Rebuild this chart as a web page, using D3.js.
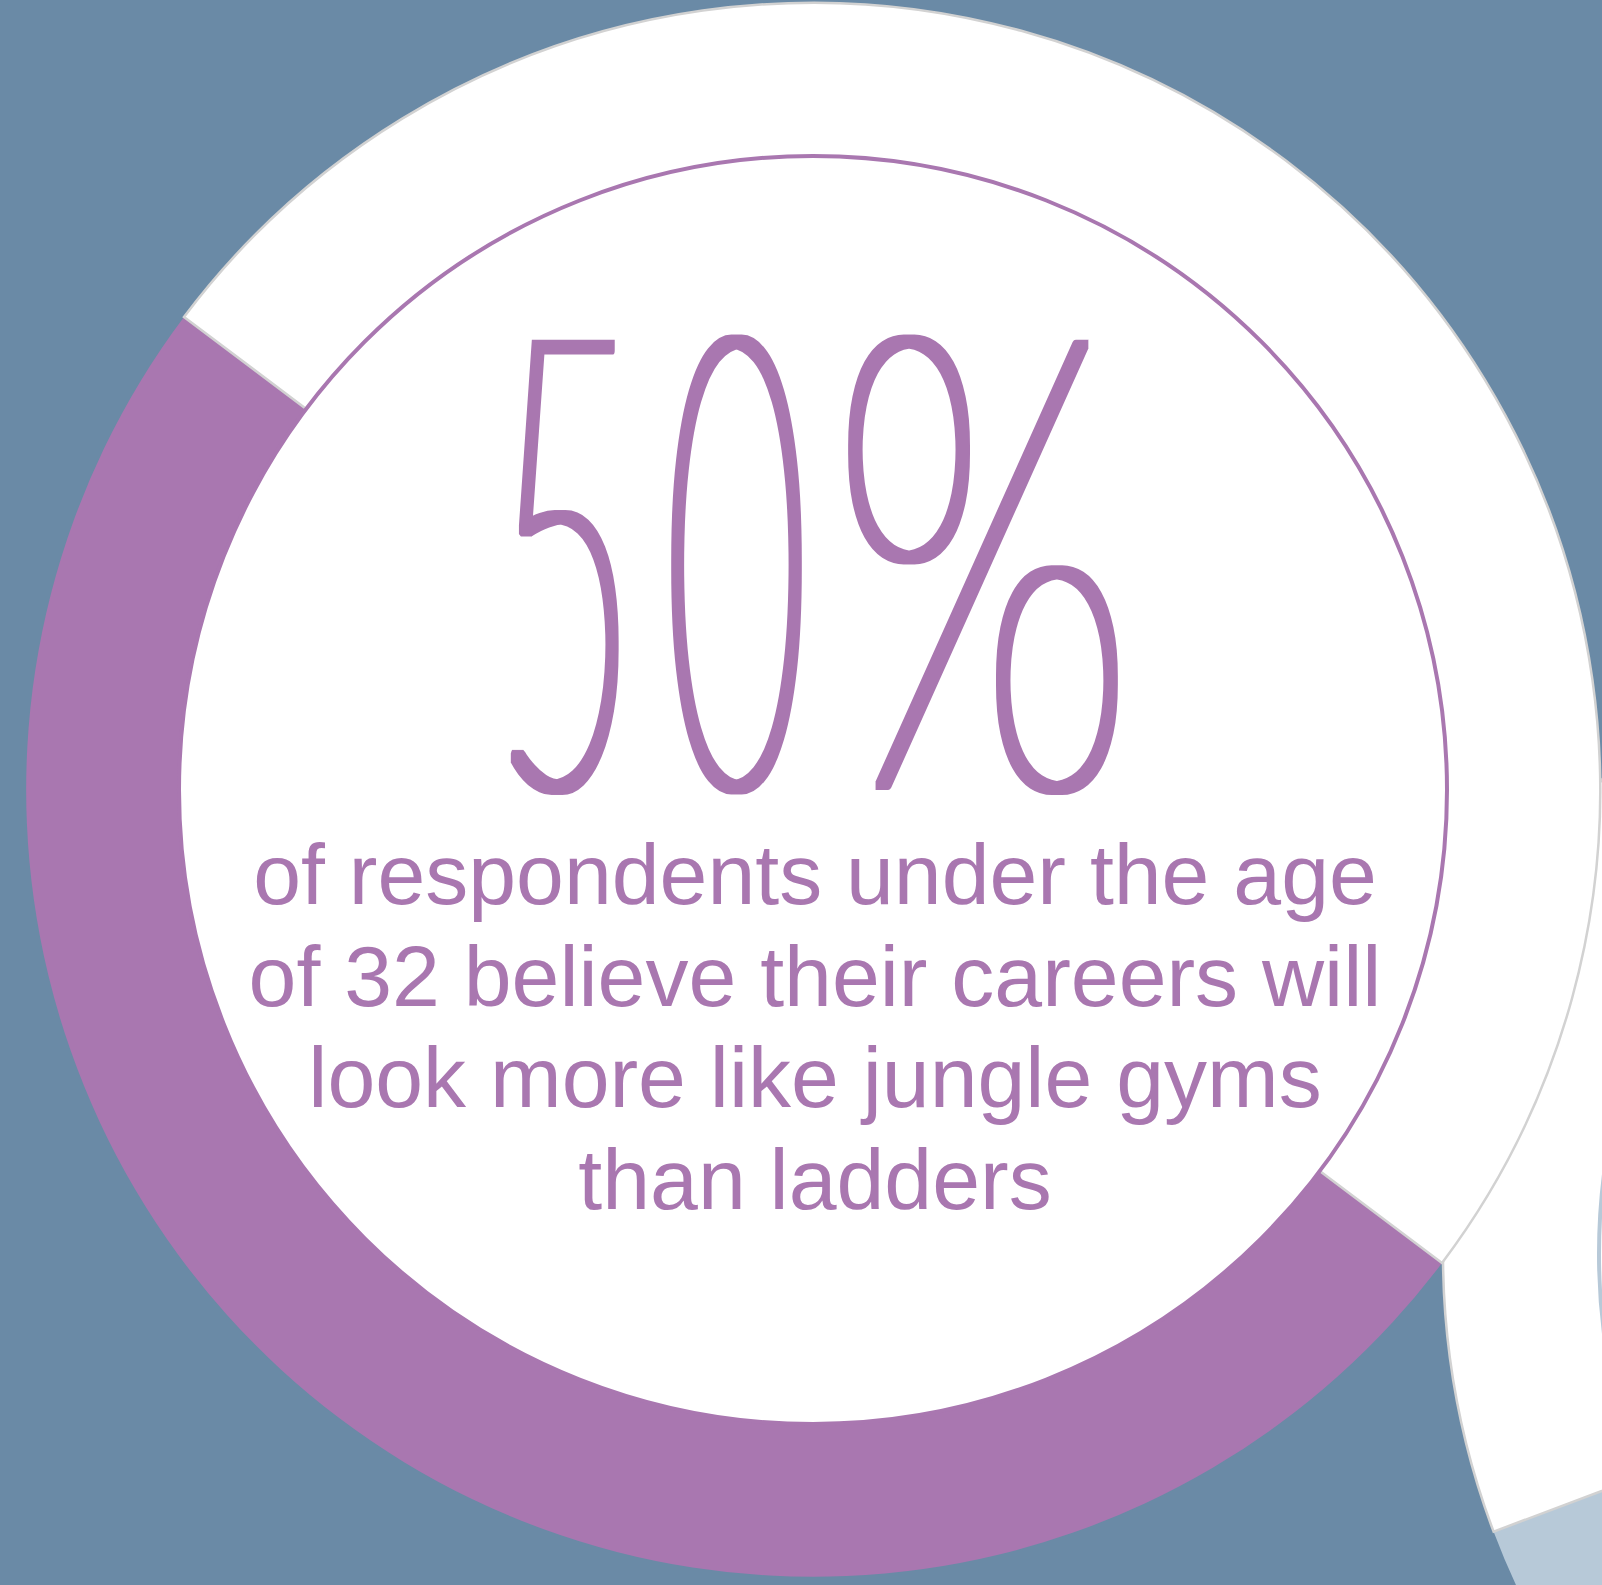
<!DOCTYPE html>
<html>
<head>
<meta charset="utf-8">
<script src="https://cdn.jsdelivr.net/npm/d3@7"></script>
<style>
  html, body { margin: 0; padding: 0; background: #6a8aa6; }
  svg { display: block; }
</style>
</head>
<body>
<svg id="chart" width="1602" height="1585"></svg>
<script>
// Share of respondents under 32: career as jungle gym vs. ladder
const mainLabels = ["Jungle gym", "Ladder"];
const mainValues = [50, 50];
const mainColors = ["#a977b0", "#ffffff"];

// Neighbouring ring (next statistic in the series)
const sideLabels = ["Yes", "No"];
const sideValues = [34, 66];
const sideColors = ["#b7c9d8", "#ffffff"];

const headlineNumber = String(mainValues[0]);
const headlineUnit = "%";
const captionLines = [
  "of respondents under the age",
  "of 32 believe their careers will",
  "look more like jungle gyms",
  "than ladders"
];

const W = 1602, H = 1585;
const outerR = 787, innerR = 622;
const startAngle = 126.94 * Math.PI / 180;

const svg = d3.select("#chart");
svg.append("rect").attr("width", W).attr("height", H).attr("fill", "#6a8aa6");

// even-weight "marker" look for the condensed headline
const defs = svg.append("defs");
defs.append("filter")
  .attr("id", "thicken")
  .attr("x", "-10%").attr("y", "-10%").attr("width", "120%").attr("height", "120%")
  .append("feMorphology")
  .attr("operator", "dilate")
  .attr("radius", "4.8 4");

function drawRing(cx, cy, labels, values, colors, holeR) {
  const g = svg.append("g").attr("transform", `translate(${cx},${cy})`);
  const pie = d3.pie().sort(null)
    .startAngle(startAngle).endAngle(startAngle + 2 * Math.PI);
  const arc = d3.arc().innerRadius(innerR).outerRadius(outerR);
  const data = pie(values).map((d, i) => Object.assign(d, { color: colors[i], label: labels[i] }));
  // the white (remaining) segment carries a light grey outline; the coloured one does not
  g.selectAll("path.seg").data(data).join("path")
    .attr("class", "seg")
    .attr("d", arc)
    .attr("fill", d => d.color)
    .attr("stroke", d => d.color === "#ffffff" ? "#d2d2d2" : "none")
    .attr("stroke-width", 2.5);
  g.append("circle")
    .attr("r", holeR)
    .attr("fill", "#ffffff")
    .attr("stroke", colors[0])
    .attr("stroke-width", 4);
  return g;
}

// neighbouring ring sits underneath, centred off the right edge
drawRing(2230, 1254, sideLabels, sideValues, sideColors, 631);
const main = drawRing(813, 790, mainLabels, mainValues, mainColors, 634);

// big headline figure: tall and condensed, loosely spaced digits
const headG = main.append("g").attr("filter", "url(#thicken)");
function condensed(str, left, width, extraGap) {
  const g = headG.append("g");
  const t = g.append("text")
    .attr("font-family", "Lato, 'Open Sans', sans-serif")
    .attr("font-weight", 200)
    .attr("font-size", 632)
    .attr("fill", mainColors[0])
    .attr("y", -4)
    .text(str);
  const bb = t.node().getBBox();
  const sx = width / bb.width;
  if (extraGap) t.attr("letter-spacing", extraGap / sx);
  g.attr("transform", `translate(${left}, 0) scale(${sx}, 1) translate(${-bb.x}, 0)`);
  return t;
}
condensed(headlineNumber, -318, 282, 30);
condensed(headlineUnit, 18, 304, 0);

// caption
const caption = main.append("text")
  .attr("text-anchor", "middle")
  .attr("font-family", "'Liberation Sans', Arial, sans-serif")
  .attr("font-size", 86)
  .attr("fill", mainColors[0]);
captionLines.forEach((line, i) => {
  caption.append("tspan")
    .attr("x", 2)
    .attr("y", 114 + i * 101.5)
    .text(line);
});
</script>
</body>
</html>
